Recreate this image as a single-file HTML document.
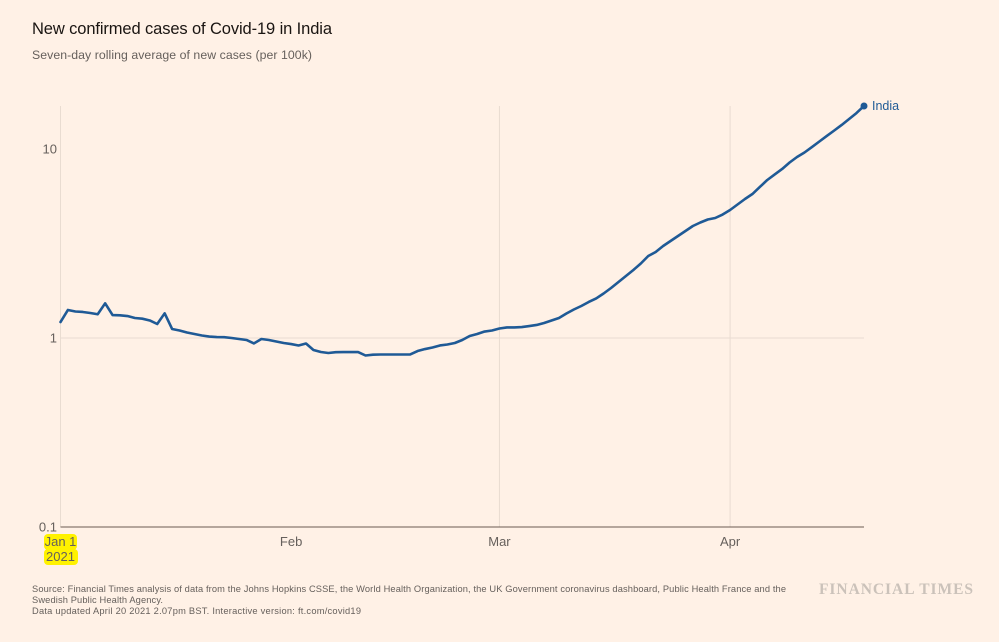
<!DOCTYPE html>
<html lang="en">
<head>
<meta charset="utf-8">
<title>New confirmed cases of Covid-19 in India</title>
<style>
html,body{margin:0;padding:0;background:#fff1e6;}
body{width:999px;height:642px;overflow:hidden;}
svg{display:block;font-family:"Liberation Sans",sans-serif;}
</style>
</head>
<body>
<svg id="chart" xmlns="http://www.w3.org/2000/svg" width="999" height="642" viewBox="0 0 999 642">
  <rect x="0" y="0" width="999" height="642" fill="#fff1e6"/>
  <text x="32" y="34" font-size="16.5" fill="#1a1512" textLength="300" lengthAdjust="spacing">New confirmed cases of Covid-19 in India</text>
  <text x="32" y="59" font-size="12.3" fill="#66605c" textLength="280" lengthAdjust="spacing">Seven-day rolling average of new cases (per 100k)</text>
  <g id="grid"></g>
  <g id="axes"></g>
  <g id="series"></g>
  <text x="32" y="592" font-size="9.3" fill="#66605c" textLength="754" lengthAdjust="spacing">Source: Financial Times analysis of data from the Johns Hopkins CSSE, the World Health Organization, the UK Government coronavirus dashboard, Public Health France and the</text>
  <text x="32" y="603" font-size="9.3" fill="#66605c" textLength="131" lengthAdjust="spacing">Swedish Public Health Agency.</text>
  <text x="32" y="614" font-size="9.3" fill="#66605c" textLength="329" lengthAdjust="spacing">Data updated April 20 2021 2.07pm BST. Interactive version: ft.com/covid19</text>
  <text x="819" y="594" font-size="15.5" font-weight="bold" fill="#cbc2ba" font-family="'Liberation Serif',serif" textLength="154" lengthAdjust="spacing">FINANCIAL TIMES</text>
</svg>
<script>
const seriesName = 'India';
const cases = [
1.215,1.407,1.381,1.373,1.356,1.335,1.526,1.323,1.319,1.307,
1.276,1.265,1.238,1.186,1.351,1.116,1.096,1.069,1.050,1.031,
1.018,1.012,1.010,1.000,0.988,0.976,0.936,0.988,0.976,0.958,
0.941,0.929,0.913,0.935,0.864,0.843,0.833,0.841,0.843,0.843,
0.843,0.808,0.816,0.818,0.818,0.818,0.818,0.818,0.853,0.874,
0.891,0.913,0.924,0.941,0.976,1.025,1.050,1.082,1.096,1.123,
1.137,1.137,1.143,1.157,1.172,1.201,1.238,1.276,1.348,1.415,
1.477,1.551,1.619,1.720,1.839,1.978,2.128,2.290,2.479,2.716,
2.851,3.067,3.260,3.465,3.683,3.914,4.084,4.236,4.314,4.501,
4.756,5.085,5.438,5.779,6.295,6.855,7.331,7.839,8.484,9.071,
9.583,10.24,10.96,11.72,12.53,13.40,14.41,15.51,16.89
];
const monthDays = [0,31,59,90];
const monthLabels = ['Jan 1','Feb','Mar','Apr'];
const gridDays = [0,59,90];
const yearLabel = '2021';
const yTickValues = [0.1,1,10];
const yTickLabels = ['0.1','1','10'];
const yGridValues = [1];
const lastDay = 108;

const NS = 'http://www.w3.org/2000/svg';
const plotLeft = 60.5, plotRight = 864, plotBottom = 527, plotTop = 106;
function xScale(day){ return plotLeft + (plotRight - plotLeft) * day / lastDay; }
function yScale(v){ return 338 - 189 * Math.log10(v); }
function make(tag, attrs, parent){
  const el = document.createElementNS(NS, tag);
  for (const k in attrs) el.setAttribute(k, attrs[k]);
  parent.appendChild(el);
  return el;
}
const grid = document.getElementById('grid');
const axes = document.getElementById('axes');
const series = document.getElementById('series');

gridDays.forEach(function(d){
  const l = make('line',{x1:xScale(d),x2:xScale(d),y1:plotTop,y2:plotBottom,stroke:'#e9dcd1','stroke-width':1},grid);
  
  
});
yGridValues.forEach(function(v){
  const l = make('line',{x1:plotLeft,x2:plotRight,y1:yScale(v),y2:yScale(v),stroke:'#e9dcd1','stroke-width':1},grid);
  
  
});

const baseline = make('line',{x1:plotLeft,x2:plotRight,y1:plotBottom,y2:plotBottom,stroke:'#6b5a52','stroke-width':1},axes);



yTickValues.forEach(function(v,i){
  const t = make('text',{x:57,y:yScale(v)+4.5,'text-anchor':'end','font-size':13,fill:'#66605c'},axes);
  t.textContent = yTickLabels[i];
  
  
});

const hl1 = make('rect',{x:44,y:534,width:33,height:16,rx:4,fill:'#fff200'},axes);


const hl2 = make('rect',{x:44,y:549,width:34,height:16,rx:4,fill:'#fff200'},axes);



monthDays.forEach(function(d,i){
  const t = make('text',{x:xScale(d),y:546,'text-anchor':'middle','font-size':13,fill:'#66605c'},axes);
  t.textContent = monthLabels[i];
  
  
});
const yr = make('text',{x:xScale(monthDays[0]),y:561,'text-anchor':'middle','font-size':13,fill:'#66605c'},axes);
yr.textContent = yearLabel;



const pts = cases.map(function(v,i){ return xScale(i).toFixed(2)+','+yScale(v).toFixed(2); }).join(' ');
const line = make('polyline',{points:pts,fill:'none',stroke:'#1f5a96','stroke-width':2.6,'stroke-linejoin':'round','stroke-linecap':'round'},series);



const lastIndex = cases.length - 1;
const dot = make('circle',{cx:xScale(lastIndex),cy:yScale(cases[lastIndex]),r:3.5,fill:'#1f5a96'},series);


const lab = make('text',{x:xScale(lastIndex)+8,y:yScale(cases[lastIndex])+4,'font-size':12.5,fill:'#1f5a96'},series);
lab.textContent = seriesName;


</script>
</body>
</html>
